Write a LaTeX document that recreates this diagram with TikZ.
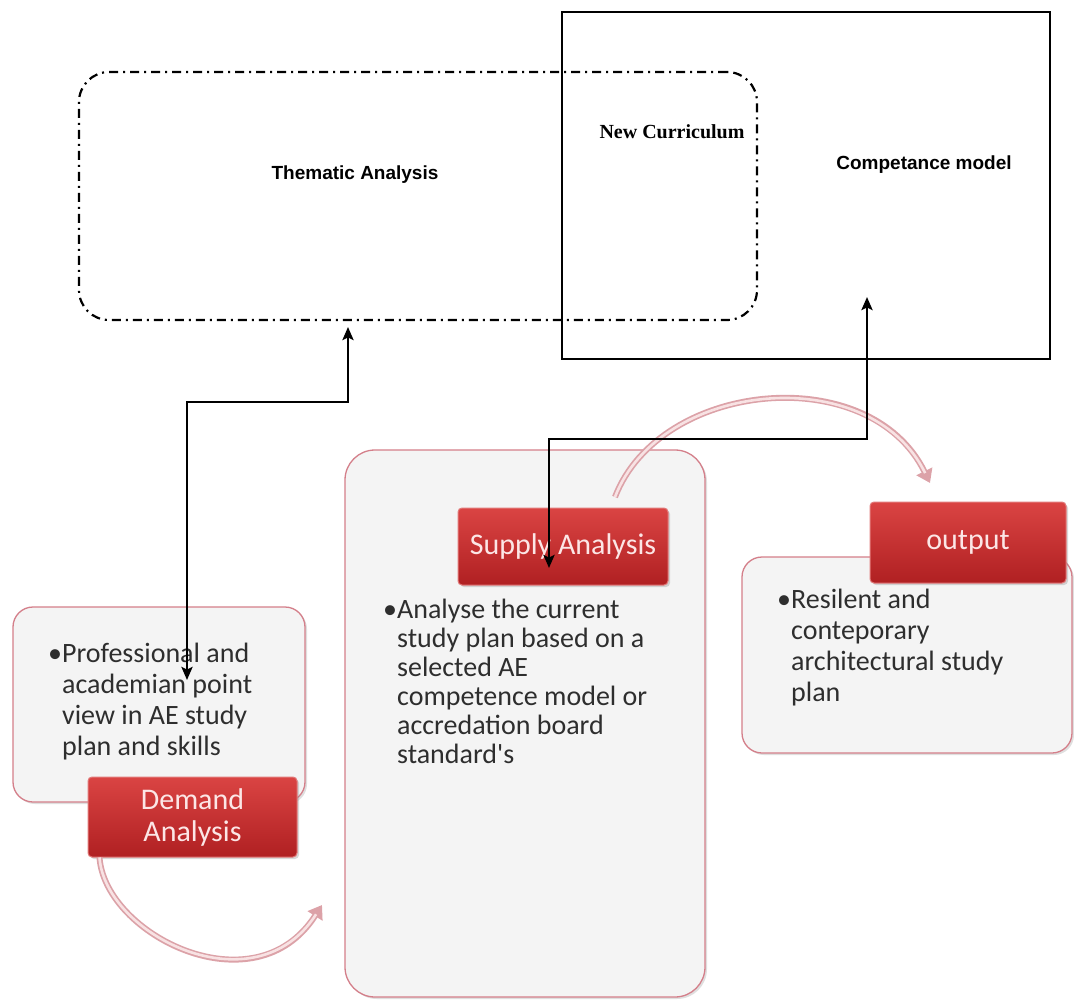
\documentclass[tikz,border=0pt]{standalone}
\usepackage{fontspec}
\setmainfont{Carlito}
\newfontfamily\plainf{Carlito}
\newfontfamily\arialf{Liberation Sans}
\newfontfamily\timesf{Liberation Serif}
\usetikzlibrary{arrows.meta,shadows}
\definecolor{boxfill}{HTML}{F4F4F4}
\definecolor{boxline}{HTML}{D47F8A}
\definecolor{redtop}{HTML}{DA4443}
\definecolor{redbot}{HTML}{B02022}
\definecolor{redline}{HTML}{E27A7A}
\definecolor{redtext}{HTML}{FCE6E6}
\definecolor{txtgray}{HTML}{2E2E2E}
\definecolor{pkout}{HTML}{DCA2A8}
\definecolor{pkin}{HTML}{F8E2E3}
\begin{document}
\begin{tikzpicture}[x=1pt,y=-1pt,
  descbox/.style={draw=boxline, line width=1.3pt, fill=boxfill, rounded corners=#1, inner sep=0pt,
    drop shadow={shadow xshift=2pt, shadow yshift=-2pt, opacity=0.25}},
  descbox/.default=20pt,
  redbox/.style={draw=redline, line width=1pt, top color=redtop, bottom color=redbot, rounded corners=4pt,
    inner sep=0pt, text=redtext, font=\fontsize{30}{32}\selectfont, align=center,
    drop shadow={shadow xshift=2pt, shadow yshift=-2pt, opacity=0.3}},
  dashbox/.style={draw=black, line width=2.2pt, rounded corners=30pt, dash pattern=on 9pt off 5pt on 2pt off 5pt, inner sep=0pt},
  solidbox/.style={draw=black, line width=2.5pt, inner sep=0pt},
  sanslabel/.style={font=\arialf\bfseries\fontsize{19}{22}\selectfont, inner sep=0pt},
  seriflabel/.style={font=\timesf\bfseries\fontsize{20}{22}\selectfont, inner sep=0pt},
  bullettext/.style={anchor=base west, inner sep=0pt, text=txtgray},
  conn/.style={line width=2.8pt, {Stealth[length=13pt,width=11pt,inset=2.5pt]}-{Stealth[length=13pt,width=11pt,inset=2.5pt]}},
  curveout/.style={draw=pkout, line width=6pt, -{Triangle[length=13pt,width=17pt]}},
  curvein/.style={draw=pkin, line width=2.6pt, shorten >=11pt}
]
\useasboundingbox (0,0) rectangle (1074,1003);
\fill[white] (0,0) rectangle (1074,1003);

% top boxes
\node[dashbox, minimum width=678pt, minimum height=248pt] (thm) at (418,196) {};
\node[solidbox, minimum width=488pt, minimum height=347pt] (comp) at (806,185.5) {};
\node[sanslabel] (thmlab) at (355,175) {Thematic Analysis};
\node[seriflabel] (newcur) at (672,132) {New Curriculum};
\node[sanslabel] (complab) at (924,165) {Competance model};

% demand
\node[descbox, minimum width=292pt, minimum height=195pt] (demdesc) at (159,704.5) {};
\node[redbox, minimum width=209pt, minimum height=80pt] (demred) at (192.5,817) {Demand\\Analysis};
\node[bullettext] (demtxt) at (48,662) {\fontsize{28}{31}\selectfont
  \begin{tabular}[t]{@{}l@{}}\textbullet Professional and\\
  \hphantom{\textbullet}academian point\\
  \hphantom{\textbullet}view in AE study\\
  \hphantom{\textbullet}plan and skills\end{tabular}};

% supply
\node[descbox=30pt, minimum width=360pt, minimum height=547pt] (supdesc) at (525,723.5) {};
\node[redbox, minimum width=210pt, minimum height=77pt] (supred) at (563,546.5) {Supply Analysis};
\node[bullettext] (suptxt) at (383,618) {\fontsize{28}{29}\selectfont
  \begin{tabular}[t]{@{}l@{}}\textbullet Analyse the current\\
  \hphantom{\textbullet}study plan based on a\\
  \hphantom{\textbullet}selected AE\\
  \hphantom{\textbullet}competence model or\\
  \hphantom{\textbullet}accredation board\\
  \hphantom{\textbullet}{\plainf standard's}\end{tabular}};

% output
\node[descbox, minimum width=330pt, minimum height=196pt] (outdesc) at (907,655) {};
\node[redbox, minimum width=196pt, minimum height=81pt] (outred) at (968,542.5) {output};
\node[bullettext] (outtxt) at (777,608) {\fontsize{28}{31}\selectfont
  \begin{tabular}[t]{@{}l@{}}\textbullet Resilent and\\
  \hphantom{\textbullet}conteporary\\
  \hphantom{\textbullet}architectural study\\
  \hphantom{\textbullet}plan\end{tabular}};

% curved flow arrows
\coordinate (c1s) at ([xshift=12pt]demred.south west);
\coordinate (c1e) at (322,905);
\draw[curveout] (c1s) .. controls (105,935) and (255,1010) .. (c1e);
\draw[curvein] (c1s) .. controls (105,935) and (255,1010) .. (c1e);
\coordinate (c2s) at (615,497);
\coordinate (c2e) at (930,483);
\draw[curveout] (c2s) .. controls (660,380) and (870,360) .. (c2e);
\draw[curvein] (c2s) .. controls (660,380) and (870,360) .. (c2e);

% black connectors
\coordinate (a1s) at (348,327);
\coordinate (a1e) at (187,680);
\draw[conn] (a1s) -- (348,402) -- (187,402) -- (a1e);
\coordinate (a2s) at (867,297);
\coordinate (a2e) at (549,568);
\draw[conn] (a2s) -- (867,439) -- (549,439) -- (a2e);
\end{tikzpicture}
\end{document}
